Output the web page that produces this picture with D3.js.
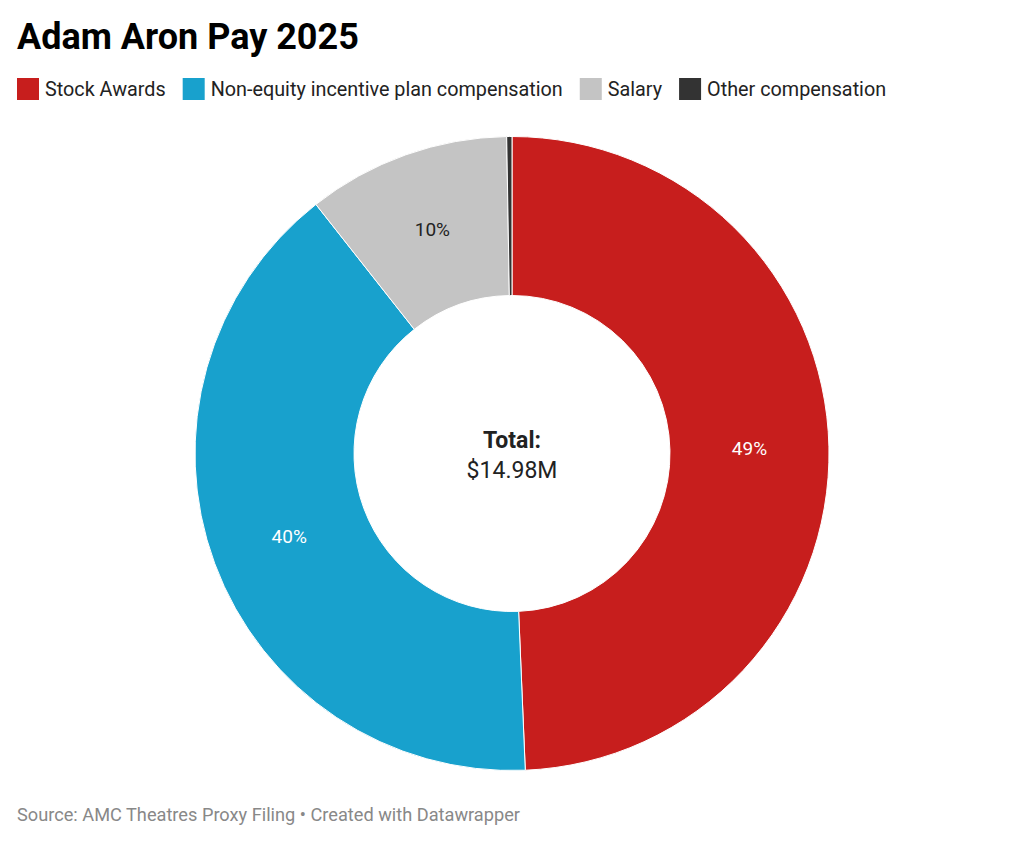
<!DOCTYPE html>
<html>
<head>
<meta charset="utf-8">
<script src="https://cdn.jsdelivr.net/npm/d3@7"></script>
<style>
  body { margin: 0; background: #fff; font-family: Roboto, "Noto Sans", sans-serif; }
  svg text { font-family: Roboto, "Noto Sans", sans-serif; }
</style>
</head>
<body>
<svg class="chart" width="1024" height="842"></svg>
<script>
// values in $M (total $14.98M)
const categories = ["Stock Awards", "Non-equity incentive plan compensation", "Salary", "Other compensation"]
const values = [7.39, 6.0, 1.55, 0.04]
const colors = ["#c71e1d", "#18a1cd", "#c4c4c4", "#333333"]
const labelColors = ["#ffffff", "#ffffff", "#222222", "#ffffff"]
const totalLabel = "$14.98M"

const svg = d3.select("svg.chart")
const cx = 512, cy = 453.5
const outerR = 317, innerR = 158

svg.append("text")
  .attr("x", 17)
  .attr("y", 49)
  .attr("font-size", 36)
  .attr("font-weight", 700)
  .attr("fill", "#000")
  .text("Adam Aron Pay 2025")

// legend, laid out by measuring text widths
const legend = svg.append("g").attr("transform", "translate(17, 78)")
let lx = 0
categories.forEach((c, i) => {
  const g = legend.append("g").attr("transform", `translate(${lx}, 0)`)
  g.append("rect")
    .attr("width", 22)
    .attr("height", 22)
    .attr("fill", colors[i])
  const t = g.append("text")
    .attr("x", 28)
    .attr("y", 18)
    .attr("font-size", 19.8)
    .attr("fill", "#222")
    .text(c)
  lx += 28 + t.node().getComputedTextLength() + 17
})

const pie = d3.pie().sort(null).value(d => d)
const arcs = pie(values)
const total = d3.sum(values)

const arc = d3.arc().innerRadius(innerR).outerRadius(outerR)
const labelArc = d3.arc().innerRadius((innerR + outerR) / 2).outerRadius((innerR + outerR) / 2)

const donut = svg.append("g").attr("transform", `translate(${cx}, ${cy})`)

donut.selectAll("path")
  .data(arcs)
  .enter()
  .append("path")
  .attr("d", arc)
  .attr("fill", (d, i) => colors[i])
  .attr("stroke", "#fff")
  .attr("stroke-width", 1)

donut.selectAll("text.pct")
  .data(arcs.filter(d => d.value / total > 0.05))
  .enter()
  .append("text")
  .attr("class", "pct")
  .attr("transform", d => `translate(${labelArc.centroid(d)})`)
  .attr("text-anchor", "middle")
  .attr("dy", "0.35em")
  .attr("font-size", 19)
  .attr("fill", d => labelColors[d.index])
  .text(d => Math.round(d.value / total * 100) + "%")

donut.append("text")
  .attr("text-anchor", "middle")
  .attr("y", -6)
  .attr("font-size", 23)
  .attr("font-weight", 700)
  .attr("fill", "#222")
  .text("Total:")

donut.append("text")
  .attr("text-anchor", "middle")
  .attr("y", 24)
  .attr("font-size", 23)
  .attr("fill", "#222")
  .text(totalLabel)

svg.append("text")
  .attr("x", 17)
  .attr("y", 821)
  .attr("font-size", 18.2)
  .attr("fill", "#888")
  .text("Source: AMC Theatres Proxy Filing • Created with Datawrapper")
</script>
</body>
</html>
